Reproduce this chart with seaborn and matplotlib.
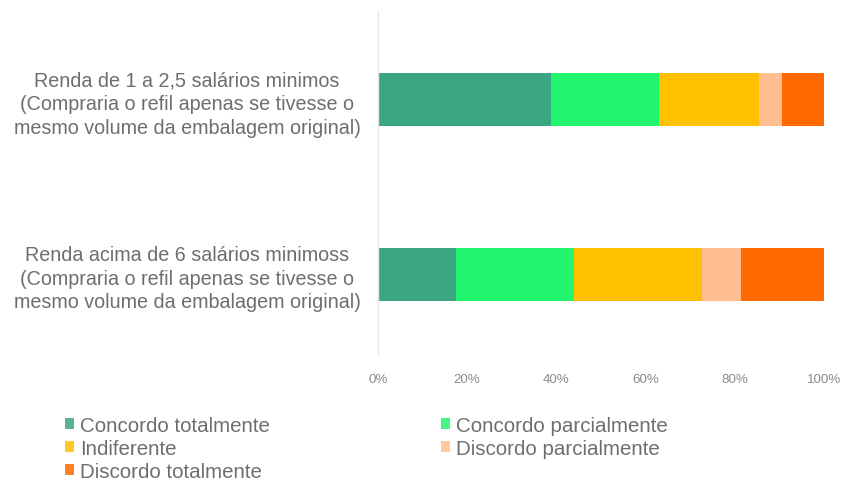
import matplotlib
matplotlib.use("Agg")
import matplotlib.pyplot as plt
from matplotlib.patches import Patch
from matplotlib.ticker import PercentFormatter
import numpy as np
import pandas as pd
import seaborn as sns

categories = [
    "Renda de 1 a 2,5 salários minimos\n(Compraria o refil apenas se tivesse o\nmesmo volume da embalagem original)",
    "Renda acima de 6 salários minimoss\n(Compraria o refil apenas se tivesse o\nmesmo volume da embalagem original)",
]
series = [
    "Concordo totalmente",
    "Concordo parcialmente",
    "Indiferente",
    "Discordo parcialmente",
    "Discordo totalmente",
]
concordo_totalmente = [38.8, 17.6]
concordo_parcialmente = [24.2, 26.4]
indiferente = [22.5, 28.7]
discordo_parcialmente = [5.0, 8.8]
discordo_totalmente = [9.5, 18.5]
tick_values = [0, 20, 40, 60, 80, 100]

colors = ["#3BA682", "#22F56E", "#FFC000", "#FFBF90", "#FF6A00"]

values = [concordo_totalmente, concordo_parcialmente, indiferente,
          discordo_parcialmente, discordo_totalmente]

sns.set_theme(style="white")
plt.rcParams["font.family"] = ["Liberation Sans", "DejaVu Sans"]

fig = plt.figure(figsize=(8.47, 4.85), dpi=100)
ax = fig.add_axes([378 / 847, 1 - 355 / 485, (824 - 378) / 847, (355 - 12) / 485])

# stacked bars: draw cumulative totals from the last series back to the first
cum = np.cumsum(np.array(values), axis=0)
df = pd.DataFrame({"cat": categories})
for i in range(len(series) - 1, -1, -1):
    df["v"] = cum[i]
    sns.barplot(data=df, x="v", y="cat", orient="h", color=colors[i],
                width=0.305, saturation=1, ax=ax, linewidth=0)

ax.set_xlim(0, 100)
ax.set_ylim(1.457, -0.506)
ax.set_xticks(tick_values)
ax.xaxis.set_major_formatter(PercentFormatter(decimals=0))
ax.set_xlabel("")
ax.set_ylabel("")
for s in ["top", "right", "bottom"]:
    ax.spines[s].set_visible(False)
ax.spines["left"].set_color("#E6E6E6")
ax.spines["left"].set_linewidth(1.0)
ax.tick_params(axis="x", length=0, labelsize=9.6, colors="#8C8C8C", pad=14)
ax.tick_params(axis="y", length=0, labelsize=14.2, colors="#6E6E6E", pad=0)
for lbl in ax.get_yticklabels():
    lbl.set_horizontalalignment("center")
    lbl.set_multialignment("center")
    lbl.set_x(-0.428)
    lbl.set_linespacing(1.3)

# legend: row-wise reading order in two columns
order = [0, 2, 4, 1, 3]
handles = [Patch(facecolor=colors[i], edgecolor="none", alpha=0.85) for i in order]
labels = [series[i] for i in order]
fig.legend(handles, labels, ncol=2, loc="upper left",
           bbox_to_anchor=(65 / 847, 1 - 417 / 485), frameon=False,
           fontsize=14.8, labelcolor="#6E6E6E", handlelength=0.45,
           handleheight=0.45, handletextpad=0.3, columnspacing=8.3,
           labelspacing=0.2, borderaxespad=0, borderpad=0)

fig.savefig("out.png", dpi=100, facecolor="white")
